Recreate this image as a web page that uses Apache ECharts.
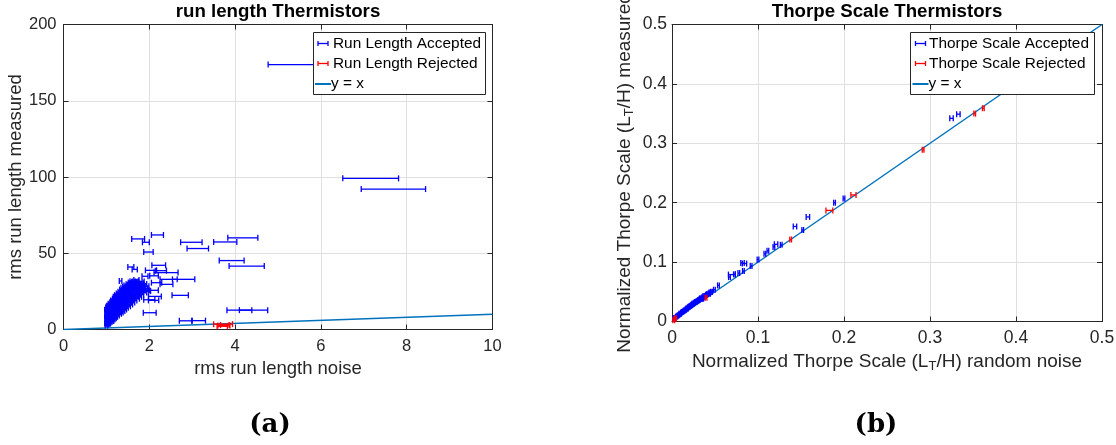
<!DOCTYPE html>
<html>
<head>
<meta charset="utf-8">
<script src="https://cdn.jsdelivr.net/npm/echarts@6/dist/echarts.min.js"></script>
<style>
  html, body { margin: 0; padding: 0; background: #fff; }
  #chart { width: 1116px; height: 445px; }
</style>
</head>
<body>
<div id="chart"></div>
<script>
// ---- Panel (a): run length, [rms noise, rms measured, half-width of noise error bar] ----
const runAccepted = [
  [6.00, 173.7, 1.23], [7.16, 99.1, 0.65], [7.69, 92.1, 0.75],
  [2.19, 62.0, 0.14], [1.74, 59.4, 0.15], [1.92, 57.2, 0.08], [2.98, 57.2, 0.25],
  [3.77, 57.4, 0.27], [4.18, 60.1, 0.35], [3.13, 53.1, 0.25], [1.98, 50.8, 0.11],
  [3.92, 45.2, 0.29], [4.27, 41.6, 0.41], [1.57, 41.0, 0.07], [2.22, 42.1, 0.16],
  [1.66, 39.4, 0.06], [2.04, 38.8, 0.13], [2.27, 38.6, 0.13], [2.39, 37.3, 0.28],
  [1.90, 34.9, 0.07], [2.11, 35.2, 0.10], [2.80, 32.9, 0.26], [2.45, 32.9, 0.20],
  [2.17, 30.7, 0.12], [2.40, 29.6, 0.15], [2.11, 25.7, 0.10], [1.95, 25.2, 0.08],
  [2.72, 22.4, 0.19], [2.13, 21.7, 0.15], [2.00, 19.5, 0.13], [2.10, 19.1, 0.12],
  [1.33, 31.8, 0.03], [2.01, 11.0, 0.15], [4.10, 12.7, 0.29], [4.43, 12.7, 0.33],
  [2.85, 5.7, 0.15], [3.15, 5.8, 0.16],
  // dense group near noise ~1-2
  [1.00, 2.6, 0.03], [0.99, 4.1, 0.03], [1.01, 5.6, 0.03], [1.00, 7.1, 0.03],
  [0.99, 8.6, 0.03], [1.01, 10.1, 0.03], [1.00, 11.6, 0.03], [0.99, 13.0, 0.03],
  [1.02, 3.3, 0.03], [1.03, 6.2, 0.03], [1.02, 9.0, 0.03], [1.03, 12.4, 0.04],
  [1.02, 14.1, 0.03], [1.05, 3.6, 0.03], [1.04, 5.1, 0.04], [1.05, 7.8, 0.03],
  [1.04, 10.6, 0.03], [1.05, 13.2, 0.04], [1.04, 15.6, 0.03], [1.07, 4.1, 0.03],
  [1.08, 6.6, 0.04], [1.07, 9.1, 0.03], [1.08, 11.8, 0.04], [1.07, 14.4, 0.03],
  [1.08, 16.9, 0.04], [1.10, 4.9, 0.03], [1.11, 7.4, 0.04], [1.10, 10.3, 0.03],
  [1.11, 13.0, 0.04], [1.10, 15.7, 0.04], [1.11, 17.8, 0.03], [1.13, 5.6, 0.04],
  [1.14, 8.4, 0.03], [1.13, 11.4, 0.04], [1.14, 14.2, 0.03], [1.13, 17.0, 0.04],
  [1.14, 19.0, 0.04], [1.16, 6.6, 0.04], [1.17, 9.5, 0.04], [1.16, 12.6, 0.03],
  [1.17, 15.5, 0.04], [1.16, 18.3, 0.04], [1.17, 20.2, 0.03], [1.19, 7.4, 0.04],
  [1.20, 10.4, 0.04], [1.19, 13.6, 0.04], [1.20, 16.8, 0.03], [1.19, 19.5, 0.04],
  [1.20, 21.4, 0.04], [1.22, 8.3, 0.04], [1.23, 11.4, 0.04], [1.22, 14.6, 0.04],
  [1.23, 17.8, 0.05], [1.22, 20.6, 0.04], [1.23, 22.5, 0.04], [1.26, 9.2, 0.04],
  [1.27, 12.5, 0.05], [1.26, 15.8, 0.04], [1.27, 19.0, 0.04], [1.26, 21.8, 0.05],
  [1.27, 23.6, 0.04], [1.30, 10.3, 0.05], [1.31, 13.4, 0.04], [1.30, 16.7, 0.05],
  [1.31, 20.1, 0.04], [1.30, 22.8, 0.05], [1.31, 24.8, 0.04], [1.34, 11.1, 0.05],
  [1.35, 14.6, 0.05], [1.34, 17.9, 0.04], [1.35, 21.2, 0.05], [1.34, 24.0, 0.05],
  [1.35, 26.2, 0.04], [1.38, 12.2, 0.05], [1.39, 15.5, 0.05], [1.38, 19.0, 0.05],
  [1.39, 22.3, 0.05], [1.38, 25.1, 0.05], [1.39, 27.3, 0.05], [1.42, 13.1, 0.05],
  [1.43, 16.6, 0.05], [1.42, 20.2, 0.06], [1.43, 23.4, 0.05], [1.42, 26.2, 0.05],
  [1.43, 28.1, 0.05], [1.46, 14.3, 0.05], [1.47, 17.8, 0.06], [1.46, 21.3, 0.05],
  [1.47, 24.5, 0.06], [1.46, 27.2, 0.05], [1.47, 28.8, 0.06], [1.50, 15.2, 0.06],
  [1.51, 18.7, 0.05], [1.50, 22.4, 0.06], [1.51, 25.5, 0.05], [1.50, 28.2, 0.06],
  [1.51, 29.7, 0.05], [1.55, 16.4, 0.06], [1.56, 20.0, 0.06], [1.55, 23.6, 0.05],
  [1.56, 26.7, 0.06], [1.55, 29.4, 0.06], [1.56, 30.8, 0.05], [1.60, 17.7, 0.06],
  [1.61, 21.3, 0.06], [1.60, 24.8, 0.06], [1.61, 27.9, 0.06], [1.60, 30.3, 0.06],
  [1.61, 31.6, 0.06], [1.65, 19.0, 0.06], [1.66, 22.6, 0.07], [1.65, 26.0, 0.06],
  [1.66, 29.0, 0.07], [1.65, 31.3, 0.06], [1.70, 20.2, 0.07], [1.71, 23.8, 0.06],
  [1.70, 27.2, 0.07], [1.71, 30.1, 0.07], [1.70, 32.5, 0.06], [1.75, 21.4, 0.07],
  [1.76, 25.0, 0.07], [1.75, 28.3, 0.07], [1.76, 31.2, 0.07], [1.80, 23.0, 0.07],
  [1.81, 26.3, 0.07], [1.80, 29.4, 0.08], [1.81, 31.5, 0.07], [1.86, 24.3, 0.08],
  [1.85, 27.3, 0.07], [1.86, 29.8, 0.08], [1.90, 25.5, 0.08], [1.91, 28.4, 0.08],
  [1.01, 3.4, 0.03], [1.00, 6.3, 0.03], [1.01, 9.3, 0.03], [1.00, 12.2, 0.03],
  [1.03, 4.4, 0.03], [1.02, 7.5, 0.03], [1.03, 10.8, 0.03], [1.02, 15.0, 0.03],
  [1.06, 5.0, 0.03], [1.05, 8.9, 0.04], [1.06, 12.0, 0.03], [1.06, 15.2, 0.04],
  [1.09, 5.6, 0.04], [1.09, 8.2, 0.03], [1.08, 13.1, 0.04], [1.09, 16.2, 0.04],
  [1.12, 6.3, 0.04], [1.12, 9.4, 0.04], [1.12, 12.6, 0.04], [1.11, 16.3, 0.04],
  [1.15, 7.2, 0.04], [1.15, 10.6, 0.04], [1.15, 13.8, 0.04], [1.15, 17.4, 0.04],
  [1.18, 8.2, 0.04], [1.18, 11.6, 0.04], [1.18, 15.1, 0.04], [1.18, 18.6, 0.05],
  [1.21, 9.2, 0.04], [1.21, 12.8, 0.05], [1.21, 16.1, 0.04], [1.21, 19.8, 0.05],
  [1.24, 10.0, 0.05], [1.24, 13.6, 0.04], [1.24, 17.2, 0.05], [1.24, 21.0, 0.05],
  [1.28, 11.2, 0.05], [1.28, 14.5, 0.05], [1.28, 18.1, 0.05], [1.28, 21.5, 0.05],
  [1.32, 12.0, 0.05], [1.32, 15.4, 0.05], [1.32, 19.0, 0.05], [1.32, 22.9, 0.05],
  [1.36, 13.0, 0.05], [1.36, 16.6, 0.05], [1.36, 20.3, 0.05], [1.36, 24.0, 0.05],
  [1.40, 14.2, 0.05], [1.40, 17.9, 0.05], [1.40, 21.6, 0.06], [1.40, 25.2, 0.05],
  [1.44, 15.4, 0.05], [1.44, 19.0, 0.06], [1.44, 22.6, 0.05], [1.44, 26.6, 0.06],
  [1.48, 16.4, 0.06], [1.48, 20.4, 0.05], [1.48, 23.9, 0.06], [1.48, 27.4, 0.06],
  [1.53, 17.6, 0.06], [1.53, 21.4, 0.06], [1.53, 25.1, 0.06], [1.53, 28.4, 0.06],
  [1.58, 19.0, 0.06], [1.58, 22.8, 0.06], [1.58, 26.2, 0.06], [1.58, 29.4, 0.06],
  [1.63, 20.4, 0.06], [1.63, 24.2, 0.07], [1.63, 27.4, 0.06], [1.63, 30.4, 0.07],
  [1.68, 21.6, 0.07], [1.68, 25.3, 0.07], [1.68, 28.5, 0.07], [1.68, 31.4, 0.07],
  [1.73, 23.0, 0.07], [1.73, 26.5, 0.07], [1.73, 29.7, 0.07], [1.78, 24.4, 0.07],
  [1.78, 27.8, 0.07], [1.78, 30.4, 0.08], [1.83, 25.6, 0.08], [1.83, 28.6, 0.08],
  [1.88, 26.8, 0.08]
];
const runRejected = [
  [3.72, 3.5, 0.22], [3.74, 2.6, 0.14], [3.70, 2.1, 0.12], [3.76, 3.0, 0.10]
];
const runIdentityX = [0, 10];

// ---- Panel (b): Thorpe scale, [noise L_T/H, measured L_T/H, half-width of error bar] ----
const thorpeAccepted = [
  [0.325, 0.342, 0.002], [0.333, 0.349, 0.002], [0.200, 0.207, 0.001],
  [0.189, 0.200, 0.001], [0.158, 0.176, 0.002], [0.143, 0.160, 0.002],
  [0.152, 0.154, 0.001], [0.127, 0.129, 0.001], [0.121, 0.130, 0.002],
  [0.1185, 0.1255, 0.001], [0.1115, 0.119, 0.001], [0.108, 0.114, 0.001],
  [0.100, 0.1045, 0.001], [0.092, 0.0935, 0.001], [0.0843, 0.0975, 0.0025],
  [0.0820, 0.0985, 0.002], [0.0830, 0.0850, 0.001], [0.0777, 0.0816, 0.001],
  [0.0726, 0.0794, 0.001], [0.0696, 0.0790, 0.004], [0.0668, 0.0748, 0.001],
  [0.054, 0.0608, 0.001], [0.0493, 0.0535, 0.001], [0.0455, 0.0495, 0.001],
  [0.0435, 0.0468, 0.001], [0.0358, 0.0383, 0.001],
  [0.002, 0.004, 0.001], [0.003, 0.006, 0.001], [0.004, 0.005, 0.001],
  [0.005, 0.008, 0.001], [0.006, 0.009, 0.001], [0.007, 0.010, 0.001],
  [0.008, 0.011, 0.001], [0.009, 0.013, 0.001], [0.010, 0.013, 0.001],
  [0.011, 0.015, 0.001], [0.012, 0.016, 0.001], [0.013, 0.017, 0.001],
  [0.014, 0.018, 0.001], [0.015, 0.019, 0.001], [0.016, 0.020, 0.001],
  [0.017, 0.022, 0.001], [0.018, 0.022, 0.001], [0.019, 0.024, 0.001],
  [0.020, 0.025, 0.001], [0.021, 0.026, 0.001], [0.022, 0.027, 0.001],
  [0.023, 0.028, 0.001], [0.024, 0.030, 0.001], [0.025, 0.030, 0.001],
  [0.026, 0.031, 0.001], [0.027, 0.033, 0.001], [0.028, 0.033, 0.001],
  [0.029, 0.034, 0.001], [0.030, 0.035, 0.001], [0.031, 0.036, 0.001],
  [0.032, 0.037, 0.001], [0.033, 0.039, 0.001], [0.034, 0.038, 0.001],
  [0.035, 0.040, 0.001], [0.036, 0.041, 0.001], [0.037, 0.043, 0.001],
  [0.038, 0.042, 0.001], [0.040, 0.045, 0.001], [0.041, 0.046, 0.001],
  [0.043, 0.047, 0.001], [0.044, 0.049, 0.001], [0.046, 0.050, 0.001]
];
const thorpeRejected = [
  [0.002, 0.002, 0.001], [0.0035, 0.0046, 0.001], [0.004, 0.005, 0.001],
  [0.0396, 0.040, 0.001], [0.138, 0.138, 0.001], [0.183, 0.187, 0.004],
  [0.211, 0.213, 0.003], [0.292, 0.289, 0.001], [0.352, 0.350, 0.001],
  [0.362, 0.359, 0.001]
];
const thorpeIdentityX = [0, 0.5];

const AX = '#262626';
const GRIDC = '#e0e0e0';
const BLUE = '#0000ff';
const RED = '#ff0000';
const LINEC = '#0072bd';
const SANS = '"Liberation Sans", Arial, sans-serif';

const chart = echarts.init(document.getElementById('chart'), null, { renderer: 'canvas' });

// horizontal error bar with end caps
function errorBar(color) {
  return function (params, api) {
    const x = api.value(0), y = api.value(1), e = api.value(2);
    const a = api.coord([x - e, y]);
    const b = api.coord([x + e, y]);
    const h = 3;
    const style = { stroke: color, lineWidth: 1.3, fill: null };
    return {
      type: 'group',
      children: [
        { type: 'line', shape: { x1: a[0], y1: a[1], x2: b[0], y2: b[1] }, style },
        { type: 'line', shape: { x1: a[0], y1: a[1] - h, x2: a[0], y2: a[1] + h }, style },
        { type: 'line', shape: { x1: b[0], y1: b[1] - h, x2: b[0], y2: b[1] + h }, style }
      ]
    };
  };
}

function mainX(gridIndex, min, max, interval, name, tickSize, nameSize, gap) {
  return {
    gridIndex, type: 'value', min, max, interval, position: 'bottom',
    name, nameLocation: 'middle', nameGap: gap,
    nameTextStyle: { color: AX, fontSize: nameSize, fontFamily: SANS },
    axisLine: { show: true, lineStyle: { color: AX, width: 1 } },
    axisTick: { show: true, inside: true, length: 5, lineStyle: { color: AX } },
    axisLabel: { color: AX, fontSize: tickSize, fontFamily: SANS, margin: 8 },
    splitLine: { show: true, lineStyle: { color: GRIDC, width: 1 } }
  };
}
function mainY(gridIndex, min, max, interval, name, tickSize, nameSize, gap, margin) {
  return {
    gridIndex, type: 'value', min, max, interval, position: 'left',
    name, nameLocation: 'middle', nameGap: gap,
    nameTextStyle: { color: AX, fontSize: nameSize, fontFamily: SANS },
    axisLine: { show: true, lineStyle: { color: AX, width: 1 } },
    axisTick: { show: true, inside: true, length: 5, lineStyle: { color: AX } },
    axisLabel: { color: AX, fontSize: tickSize, fontFamily: SANS, margin },
    splitLine: { show: true, lineStyle: { color: GRIDC, width: 1 } }
  };
}
function mirror(gridIndex, min, max, interval, position) {
  return {
    gridIndex, type: 'value', min, max, interval, position,
    axisLine: { show: true, onZero: false, lineStyle: { color: AX, width: 1 } },
    axisTick: { show: true, inside: true, length: 5, lineStyle: { color: AX } },
    axisLabel: { show: false },
    splitLine: { show: false }
  };
}

const thorpeNameRich = {
  n: { fontSize: 19, fontFamily: SANS, color: AX },
  s: { fontSize: 13, fontFamily: SANS, color: AX, padding: [10, 0, 0, 0] }
};

const xAxes = [
  mainX(0, 0, 10, 2, 'rms run length noise', 16.5, 18.5, 29),
  mirror(0, 0, 10, 2, 'top'),
  Object.assign(mainX(1, 0, 0.5, 0.1, '{n|Normalized Thorpe Scale (L}{s|T}{n|/H) random noise}', 17.5, 19, 28), {
    nameTextStyle: { rich: thorpeNameRich }
  }),
  mirror(1, 0, 0.5, 0.1, 'top')
];
const yAxes = [
  mainY(0, 0, 200, 50, 'rms run length measured', 16.5, 18.5, 37, 7),
  mirror(0, 0, 200, 50, 'right'),
  Object.assign(mainY(1, 0, 0.5, 0.1, '{n|Normalized Thorpe Scale (L}{s|T}{n|/H) measured}', 17.5, 19, 36, 5), {
    nameTextStyle: { rich: thorpeNameRich }
  }),
  mirror(1, 0, 0.5, 0.1, 'right')
];

// boxed key: two error-bar entries and the reference line
function legendBox(x, y, w, labels, iconX, textX) {
  const Z = 100;
  const rowY = [y + 11, y + 31, y + 51.5];
  const els = [{
    type: 'rect', z: Z, shape: { x, y, width: w, height: 62 },
    style: { fill: '#fff', stroke: AX, lineWidth: 1 }
  }];
  const cols = [BLUE, RED];
  for (let i = 0; i < 2; i++) {
    const cy = rowY[i];
    const st = { stroke: cols[i], lineWidth: 1.3 };
    els.push({ type: 'line', z: Z + 1, shape: { x1: iconX, y1: cy, x2: iconX + 10, y2: cy }, style: st });
    els.push({ type: 'line', z: Z + 1, shape: { x1: iconX, y1: cy - 2.5, x2: iconX, y2: cy + 2.5 }, style: st });
    els.push({ type: 'line', z: Z + 1, shape: { x1: iconX + 10, y1: cy - 2.5, x2: iconX + 10, y2: cy + 2.5 }, style: st });
    els.push({ type: 'text', z: Z + 1, style: { text: labels[i], x: textX, y: cy, textVerticalAlign: 'middle', fill: '#000', font: '15.4px ' + SANS } });
  }
  els.push({ type: 'line', z: Z + 1, shape: { x1: iconX - 3, y1: rowY[2], x2: iconX + 13, y2: rowY[2] }, style: { stroke: LINEC, lineWidth: 2 } });
  els.push({ type: 'text', z: Z + 1, style: { text: labels[2], x: iconX + 13, y: rowY[2], textVerticalAlign: 'middle', fill: '#000', font: '15.4px ' + SANS } });
  return els;
}

const option = {
  animation: false,
  backgroundColor: '#fff',
  grid: [
    { left: 63.5, top: 24.5, width: 429, height: 305, containLabel: false, outerBoundsMode: 'none' },
    { left: 672, top: 24.5, width: 430, height: 297, containLabel: false, outerBoundsMode: 'none' }
  ],
  xAxis: xAxes,
  yAxis: yAxes,
  graphic: [
    { type: 'text', style: { text: 'run length Thermistors', x: 278, y: 12, textAlign: 'center', textVerticalAlign: 'middle', fill: '#000', font: 'bold 18.7px ' + SANS } },
    { type: 'text', style: { text: 'Thorpe Scale Thermistors', x: 887, y: 12, textAlign: 'center', textVerticalAlign: 'middle', fill: '#000', font: 'bold 18.7px ' + SANS } },
    { type: 'text', style: { text: '(a)', x: 270, y: 425, textAlign: 'center', textVerticalAlign: 'middle', fill: '#000', font: 'bold 26px "DejaVu Serif", serif' } },
    { type: 'text', style: { text: '(b)', x: 876, y: 425, textAlign: 'center', textVerticalAlign: 'middle', fill: '#000', font: 'bold 26px "DejaVu Serif", serif' } }
  ]
    .concat(legendBox(313.5, 32.5, 172, ['Run Length Accepted', 'Run Length Rejected', 'y = x'], 318, 333))
    .concat(legendBox(910.5, 32.5, 184, ['Thorpe Scale Accepted', 'Thorpe Scale Rejected', 'y = x'], 915.5, 929)),
  series: [
    {
      type: 'line', xAxisIndex: 0, yAxisIndex: 0, symbol: 'none', z: 3,
      data: runIdentityX.map(v => [v, v]),
      lineStyle: { color: LINEC, width: 1.5 }
    },
    {
      type: 'custom', xAxisIndex: 0, yAxisIndex: 0, z: 4,
      renderItem: errorBar(BLUE), encode: { x: 0, y: 1 }, data: runAccepted
    },
    {
      type: 'custom', xAxisIndex: 0, yAxisIndex: 0, z: 5,
      renderItem: errorBar(RED), encode: { x: 0, y: 1 }, data: runRejected
    },
    {
      type: 'line', xAxisIndex: 2, yAxisIndex: 2, symbol: 'none', z: 3,
      data: thorpeIdentityX.map(v => [v, v]),
      lineStyle: { color: LINEC, width: 1.5 }
    },
    {
      type: 'custom', xAxisIndex: 2, yAxisIndex: 2, z: 4,
      renderItem: errorBar(BLUE), encode: { x: 0, y: 1 }, data: thorpeAccepted
    },
    {
      type: 'custom', xAxisIndex: 2, yAxisIndex: 2, z: 5,
      renderItem: errorBar(RED), encode: { x: 0, y: 1 }, data: thorpeRejected
    }
  ]
};

chart.setOption(option);
</script>
</body>
</html>
